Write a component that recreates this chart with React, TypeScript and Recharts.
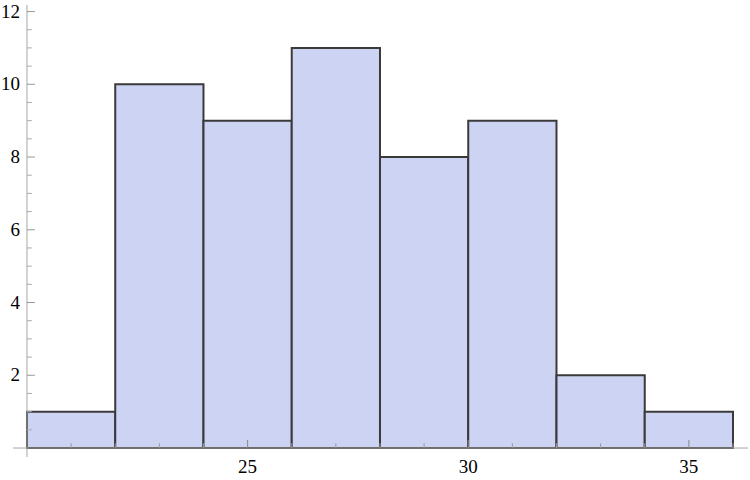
import React from 'react';
import { ComposedChart, XAxis, YAxis, ReferenceArea, ReferenceLine, Line } from 'recharts';

const binStarts = [20, 22, 24, 26, 28, 30, 32, 34];
const binWidth = 2;
const counts = [1, 10, 9, 11, 8, 9, 2, 1];
const xTickLabels = [25, 30, 35];
const yTickLabels = [2, 4, 6, 8, 10, 12];
const xMinorTicks = [21, 22, 23, 24, 26, 27, 28, 29, 31, 32, 33, 34, 36];
const yMinorTicks = [0.5, 1, 1.5, 2.5, 3, 3.5, 4.5, 5, 5.5, 6.5, 7, 7.5, 8.5, 9, 9.5, 10.5, 11, 11.5];

const X_MIN = 19.683;
const X_MAX = 36.34;
const Y_MIN = -0.247;
const Y_MAX = 12.18;

const data = binStarts.map((s, i) => ({ x: s + binWidth / 2, count: counts[i] }));

const AXIS = '#a6a6a6';
const FONT = "'Liberation Serif', 'DejaVu Serif', serif";

const XTick = (props: any) => {
  const { x, y, payload } = props;
  return (
    <text x={x} y={y + 16} textAnchor="middle" style={{ fontFamily: FONT, fontSize: '19px' }} fill="#000">
      {payload.value}
    </text>
  );
};

const YTick = (props: any) => {
  const { x, y, payload } = props;
  return (
    <text x={x + 7} y={y + 6} textAnchor="end" style={{ fontFamily: FONT, fontSize: '19px' }} fill="#000">
      {payload.value}
    </text>
  );
};

export default function App() {
  return (
    <div style={{ position: 'absolute', left: 0, top: 0, background: '#fff' }}>
      <style>{'body{margin:0} .recharts-wrapper text, .recharts-wrapper tspan { font-family: ' + FONT + ' !important; }'}</style>
      <ComposedChart
        width={750}
        height={480}
        data={data}
        margin={{ top: 5, right: 2, bottom: 0, left: 0 }}
      >
        <XAxis
          dataKey="x"
          type="number"
          domain={[X_MIN, X_MAX]}
          allowDataOverflow
          ticks={xTickLabels}
          axisLine={false}
          tickLine={false}
          tickSize={0}
          tickMargin={0}
          height={23}
          tick={XTick}
        />
        <YAxis
          type="number"
          domain={[Y_MIN, Y_MAX]}
          allowDataOverflow
          ticks={yTickLabels}
          axisLine={false}
          tickLine={false}
          tickSize={0}
          tickMargin={0}
          width={13}
          tick={YTick}
        />
        {binStarts.map((s, i) => (
          <ReferenceArea
            key={'b' + i}
            x1={s}
            x2={s + binWidth}
            y1={0}
            y2={counts[i]}
            fill="#cdd3f2"
            fillOpacity={1}
            stroke="#3a3a3a"
            strokeWidth={2}
            ifOverflow="visible"
          />
        ))}
        <ReferenceLine
          segment={[{ x: X_MIN, y: 0 }, { x: X_MAX, y: 0 }]}
          stroke={AXIS}
          strokeWidth={1}
          ifOverflow="visible"
        />
        <ReferenceLine
          segment={[{ x: 20, y: Y_MIN }, { x: 20, y: Y_MAX }]}
          stroke={AXIS}
          strokeWidth={1}
          ifOverflow="visible"
        />
        {xTickLabels.map((v) => (
          <ReferenceLine key={'xM' + v} segment={[{ x: v, y: 0 }, { x: v, y: 0.22 }]} stroke="#888" strokeWidth={1} ifOverflow="visible" />
        ))}
        {xMinorTicks.map((v) => (
          <ReferenceLine key={'xm' + v} segment={[{ x: v, y: 0 }, { x: v, y: 0.13 }]} stroke="#999" strokeWidth={1} ifOverflow="visible" />
        ))}
        {yTickLabels.map((v) => (
          <ReferenceLine key={'yM' + v} segment={[{ x: 20, y: v }, { x: 20.18, y: v }]} stroke="#999" strokeWidth={1} ifOverflow="visible" />
        ))}
        {yMinorTicks.map((v) => (
          <ReferenceLine key={'ym' + v} segment={[{ x: 20, y: v }, { x: 20.11, y: v }]} stroke="#aaa" strokeWidth={1} ifOverflow="visible" />
        ))}
        <Line dataKey="count" stroke="none" dot={false} activeDot={false} isAnimationActive={false} legendType="none" />
      </ComposedChart>
    </div>
  );
}
